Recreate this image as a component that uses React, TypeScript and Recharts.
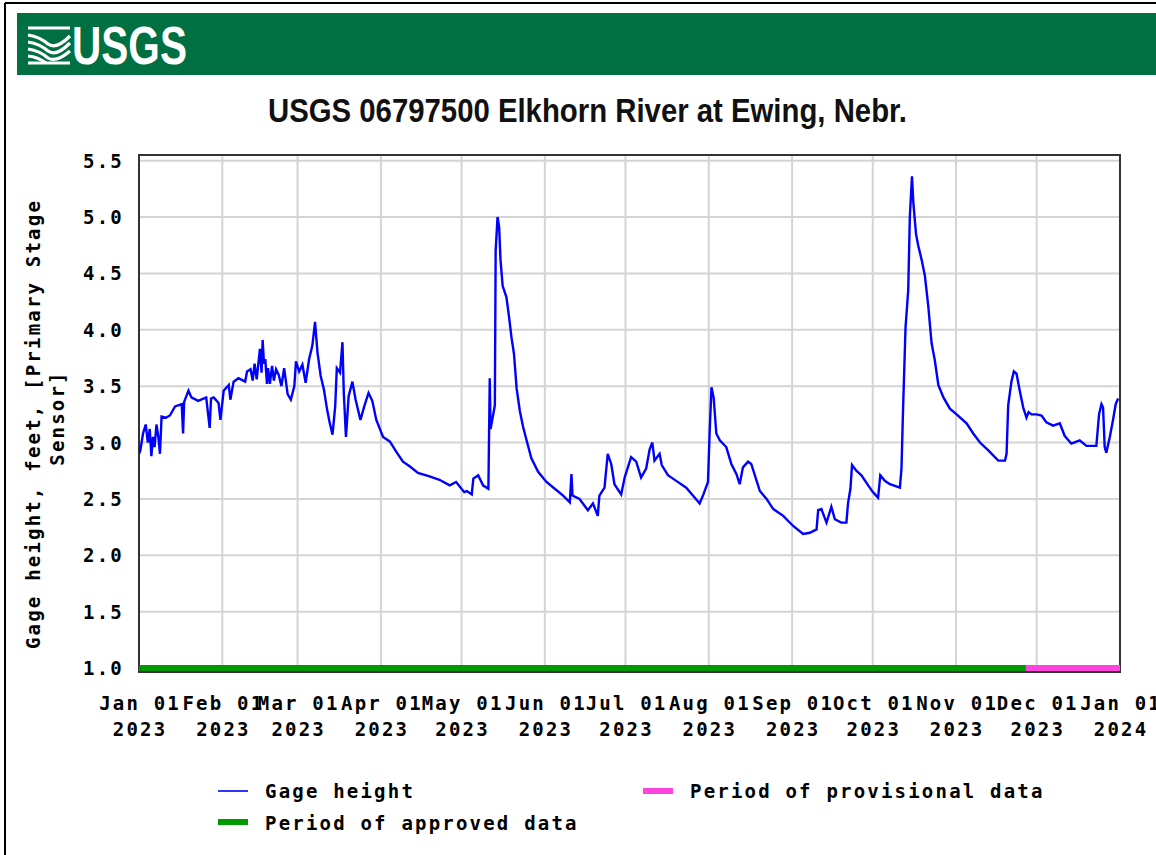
import React from "react";
import { LineChart, Line, XAxis, YAxis, CartesianGrid, ReferenceArea } from "recharts";

// x is days since 01 Jan 2023
const monthNames = ["Jan", "Feb", "Mar", "Apr", "May", "Jun", "Jul", "Aug", "Sep", "Oct", "Nov", "Dec", "Jan"];
const monthYears = ["2023", "2023", "2023", "2023", "2023", "2023", "2023", "2023", "2023", "2023", "2023", "2023", "2024"];
const monthStartDays = [0, 31, 59, 90, 120, 151, 181, 212, 243, 273, 304, 334, 365];
const yTicks = [1.0, 1.5, 2.0, 2.5, 3.0, 3.5, 4.0, 4.5, 5.0, 5.5];

const days = [
  0, 0.5, 1.5, 2.5, 3.3, 4.0, 4.6, 5.2, 5.8, 6.5, 7.2, 7.8, 8.4, 10, 11.5, 13.4, 15.9, 16.4, 16.8, 18.4,
  19.5, 22, 25, 26.3, 26.8, 27.8, 29.6, 30.3, 31.5, 33.4, 34, 35.2, 37, 39.5, 40.2, 41.5, 42.3, 43, 43.8, 44.5,
  45, 45.6, 46, 46.5, 47, 47.6, 48, 48.7, 49.5, 50.2, 51, 52, 53, 54, 55.3, 56.5, 57.8, 58.4, 59.6, 60.8,
  62, 63.3, 64.5, 65.5, 66.4, 67.6, 68.8, 70, 71, 72, 73, 73.6, 74.8, 75.7, 76.2, 77, 78, 79.4, 80.6, 82.4,
  83.8, 85.4, 86.8, 88.3, 90.8, 93.3, 95.7, 98.2, 100.7, 103.8, 108.1, 111.8, 115.6, 118, 121, 122, 123.8, 124.4, 126.2, 128,
  130, 130.5, 130.8, 131.8, 132.4, 132.7, 133.4, 134, 134.5, 135.3, 136.7, 137.7, 138.6, 139.5, 140.5, 141.7, 142.9, 144.2, 146, 148.5,
  151.6, 154.7, 157.8, 160.3, 160.9, 161.3, 163.9, 167, 168.9, 170.7, 171.3, 173.2, 174.4, 175.7, 176.9, 179.4, 180.7, 183.1, 185, 186.8,
  188.7, 190, 191, 191.8, 193.7, 194.5, 196.8, 199.9, 203.6, 206.1, 208.6, 210, 211.7, 212.3, 213, 213.8, 214.8, 216.1, 218.5, 220.4,
  222.3, 223.5, 224.7, 226.6, 227.8, 229.8, 231, 233.5, 236, 239.7, 243.4, 247.1, 249.6, 252.1, 252.7, 253.9, 255.8, 257.6, 258.9, 261.3,
  263.2, 263.8, 264.7, 265.3, 266.9, 268.8, 271.3, 273.1, 275, 275.8, 277.5, 279.4, 283.1, 283.7, 284.3, 285.2, 286.2, 286.8, 287.6, 288.1,
  289.1, 289.9, 291.2, 292.4, 293.7, 294.9, 296.1, 297.4, 299.3, 301.7, 304.2, 307.9, 310.4, 312.9, 316, 319.7, 322.2, 322.8, 323.4, 324.6,
  325.5, 326.5, 327.7, 329, 330.2, 331, 332.1, 333.9, 335.8, 337.6, 340.1, 342.6, 344.4, 346.9, 350, 352.5, 356.2, 357.2, 358.1, 358.7,
  359.3, 359.9, 361.2, 362.4, 363.4, 364.3,
];

const gageHeight = [
  2.9, 2.93, 3.08, 3.16, 3.0, 3.12, 2.88, 3.05, 2.96, 3.16, 3.05, 2.9, 3.23, 3.22, 3.24, 3.32, 3.34, 3.08, 3.36, 3.46,
  3.4, 3.37, 3.4, 3.13, 3.39, 3.4, 3.35, 3.2, 3.46, 3.51, 3.38, 3.54, 3.57, 3.54, 3.63, 3.65, 3.55, 3.7, 3.56, 3.72,
  3.83, 3.62, 3.91, 3.7, 3.74, 3.52, 3.66, 3.52, 3.68, 3.55, 3.65, 3.6, 3.5, 3.66, 3.43, 3.38, 3.5, 3.72, 3.63, 3.69,
  3.53, 3.74, 3.86, 4.07, 3.8, 3.59, 3.47, 3.29, 3.17, 3.07, 3.32, 3.66, 3.62, 3.89, 3.44, 3.05, 3.41, 3.54, 3.38, 3.2,
  3.32, 3.44, 3.37, 3.2, 3.05, 3.01, 2.92, 2.83, 2.79, 2.73, 2.7, 2.67, 2.62, 2.65, 2.56, 2.57, 2.54, 2.68, 2.71, 2.62,
  2.59, 3.57, 3.12, 3.25, 3.33, 4.7, 5.0, 4.91, 4.62, 4.39, 4.29, 4.11, 3.93, 3.79, 3.48, 3.28, 3.14, 3.02, 2.86, 2.74,
  2.65, 2.59, 2.53, 2.47, 2.72, 2.53, 2.5, 2.4, 2.46, 2.35, 2.53, 2.6, 2.9, 2.81, 2.63, 2.54, 2.69, 2.87, 2.83, 2.69,
  2.77, 2.94, 3.0, 2.84, 2.9, 2.8, 2.71, 2.66, 2.6, 2.53, 2.46, 2.54, 2.65, 3.08, 3.49, 3.4, 3.08, 3.02, 2.96, 2.81,
  2.72, 2.63, 2.78, 2.83, 2.81, 2.66, 2.57, 2.5, 2.41, 2.35, 2.26, 2.19, 2.2, 2.23, 2.4, 2.41, 2.29, 2.43, 2.32, 2.29,
  2.29, 2.46, 2.59, 2.8, 2.75, 2.71, 2.62, 2.56, 2.51, 2.71, 2.66, 2.63, 2.6, 2.77, 3.31, 4.02, 4.35, 5.0, 5.36, 5.13,
  4.85, 4.75, 4.62, 4.48, 4.2, 3.88, 3.73, 3.51, 3.4, 3.3, 3.25, 3.17, 3.08, 3.0, 2.93, 2.84, 2.84, 2.9, 3.33, 3.54,
  3.63, 3.61, 3.46, 3.31, 3.22, 3.27, 3.25, 3.25, 3.24, 3.18, 3.15, 3.17, 3.06, 2.99, 3.02, 2.97, 2.97, 3.25, 3.34, 3.31,
  2.96, 2.91, 3.05, 3.2, 3.34, 3.39,
];

// data-quality periods, drawn as a thick bar at gage height 1.0
const approvedDays = [0, 330];
const provisionalDays = [330, 365];
const periodLevel = 1.0;

const chartData = days.map((d, i) => ({ day: d, gage: gageHeight[i] }));
const approvedData = approvedDays.map((d) => ({ day: d, level: periodLevel }));
const provisionalData = provisionalDays.map((d) => ({ day: d, level: periodLevel }));

const MONO = "'DejaVu Sans Mono', 'Liberation Mono', monospace";
const labelStyle = { fontFamily: MONO, fontSize: 19, fontWeight: 700, letterSpacing: 2.2, fill: "#000" };

function MonthTick(props: any) {
  const { x, y, payload } = props;
  const i = monthStartDays.indexOf(payload.value);
  if (i < 0) return null;
  return (
    <text x={x} y={y} textAnchor="middle" style={labelStyle}>
      <tspan x={x + 1.1} dy={38}>{monthNames[i] + " 01"}</tspan>
      <tspan x={x + 1.1} dy={26}>{monthYears[i]}</tspan>
    </text>
  );
}

function HeightTick(props: any) {
  const { x, y, payload } = props;
  return (
    <text x={x - 15} y={y + 7} textAnchor="end" style={labelStyle}>
      {Number(payload.value).toFixed(1)}
    </text>
  );
}

function Decorations() {
  return (
    <svg width={1156} height={855} style={{ position: "absolute", left: 0, top: 0 }}>
      <line x1={5} y1={3} x2={1156} y2={3} stroke="#000" strokeWidth={2} />
      <line x1={5} y1={3} x2={5} y2={855} stroke="#000" strokeWidth={2} />
      <rect x={17} y={13} width={1139} height={62} fill="#006F41" />
      <g stroke="#fff" strokeWidth={3.2} fill="none">
        <path d="M28 28 L70 28" />
        <path d="M28 35 Q40 37 48 44 Q56 50 70 36" />
        <path d="M28 42 Q40 44 48 51 Q56 57 70 43" />
        <path d="M28 49 Q40 51 48 58 Q56 63 70 51" />
        <path d="M28 56 Q38 57 46 63" />
        <path d="M28 63 L70 63" />
      </g>
      <text x={72} y={64} textLength={115} lengthAdjust="spacingAndGlyphs"
        style={{ fontFamily: "'Liberation Sans', Arial, sans-serif", fontWeight: 700, fontSize: 54, fill: "#fff" }}>
        USGS
      </text>
      <text x={268} y={122} textLength={639} lengthAdjust="spacingAndGlyphs"
        style={{ fontFamily: "'Liberation Sans', Arial, sans-serif", fontWeight: 700, fontSize: 33, fill: "#111" }}>
        USGS 06797500 Elkhorn River at Ewing, Nebr.
      </text>
      <text transform="translate(40 424) rotate(-90)" textAnchor="middle" style={labelStyle}>
        Gage height, feet, [Primary Stage
      </text>
      <text transform="translate(64 418) rotate(-90)" textAnchor="middle" style={labelStyle}>
        Sensor]
      </text>
      <line x1={218} y1={791} x2={248} y2={791} stroke="#3333ff" strokeWidth={2} />
      <text x={265} y={798} style={labelStyle}>Gage height</text>
      <rect x={643} y={788} width={30} height={6} fill="#ff44dd" />
      <text x={690} y={798} style={labelStyle}>Period of provisional data</text>
      <rect x={218} y={819} width={30} height={6} fill="#009900" />
      <text x={265} y={830} style={labelStyle}>Period of approved data</text>
    </svg>
  );
}

export default function App() {
  return (
    <div style={{ position: "absolute", left: 0, top: 0, width: 1156, height: 855, background: "#fff", overflow: "hidden" }}>
      <Decorations />
      <div style={{ position: "absolute", left: 0, top: 0 }}>
        <LineChart width={1156} height={855} data={chartData}
          margin={{ top: 155, right: 36, left: 79, bottom: 123 }}>
          <CartesianGrid stroke="#d4d4d4" strokeWidth={2} />
          <XAxis dataKey="day" type="number" domain={[0, 365]} ticks={monthStartDays}
            allowDataOverflow height={60} tickSize={0} tickMargin={0} axisLine={false}
            tick={<MonthTick />} interval={0} />
          <YAxis type="number" domain={[0.965, 5.55]} ticks={yTicks} allowDataOverflow
            width={60} tickSize={0} tickMargin={0} axisLine={false} tick={<HeightTick />} interval={0} />
          <Line data={approvedData} dataKey="level" stroke="#009900" strokeWidth={6}
            dot={false} isAnimationActive={false} />
          <Line data={provisionalData} dataKey="level" stroke="#ff44dd" strokeWidth={6}
            dot={false} isAnimationActive={false} />
          <Line dataKey="gage" type="linear" stroke="#0000ff" strokeWidth={2.4}
            dot={false} isAnimationActive={false} />
          <ReferenceArea x1={0} x2={365} y1={0.965} y2={5.55} fill="none" stroke="#333" strokeWidth={2} ifOverflow="visible" />
        </LineChart>
      </div>
    </div>
  );
}
